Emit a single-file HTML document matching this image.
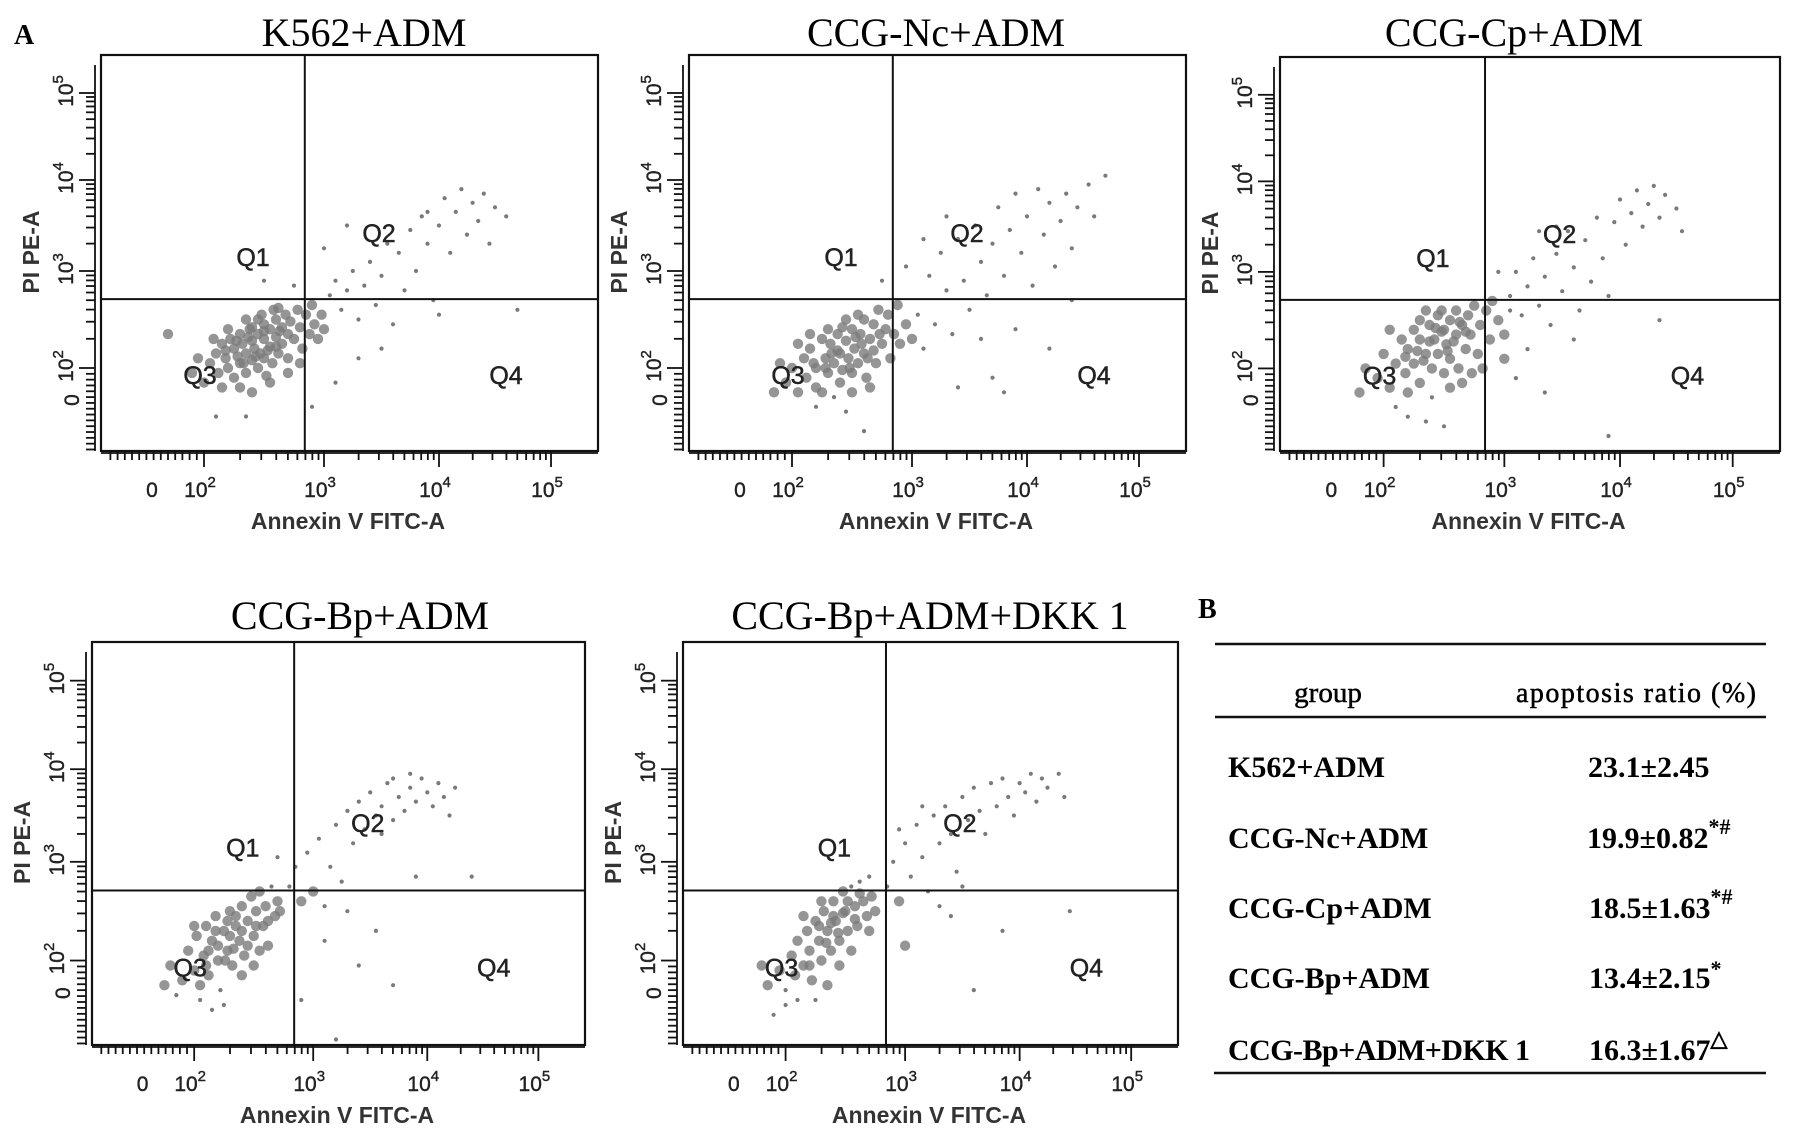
<!DOCTYPE html>
<html><head><meta charset="utf-8"><style>
html,body{margin:0;padding:0;background:#fff}
svg{display:block}
.ser{font-family:"Liberation Serif",serif}
.san{font-family:"Liberation Sans",sans-serif}
</style></head><body>
<svg id="fig" width="1795" height="1142" viewBox="0 0 1795 1142" xmlns="http://www.w3.org/2000/svg">
<text x="14" y="44" class="ser" font-size="28" font-weight="bold">A</text>
<g id="plots"></g>
<g class="ser">
<text x="1198" y="618" font-size="28" font-weight="bold">B</text>
<line x1="1215" y1="644" x2="1766" y2="644" stroke="#111" stroke-width="2.5"/>
<text x="1328" y="702" font-size="29" text-anchor="middle" stroke="#000" stroke-width="0.5">group</text>
<text x="1636" y="702" font-size="28" text-anchor="middle" textLength="240" stroke="#000" stroke-width="0.5">apoptosis ratio (%)</text>
<line x1="1215" y1="717" x2="1766" y2="717" stroke="#111" stroke-width="2.5"/>
<g font-size="30" font-weight="bold">
<text x="1228" y="777">K562+ADM</text>
<text x="1588" y="777">23.1±2.45</text>
<text x="1228" y="848">CCG-Nc+ADM</text>
<text x="1587" y="848">19.9±0.82<tspan font-size="22" dy="-14">*#</tspan></text>
<text x="1228" y="918">CCG-Cp+ADM</text>
<text x="1589" y="918">18.5±1.63<tspan font-size="22" dy="-14">*#</tspan></text>
<text x="1228" y="988">CCG-Bp+ADM</text>
<text x="1589" y="988">13.4±2.15<tspan font-size="22" dy="-12">*</tspan></text>
<text x="1228" y="1060" textLength="302">CCG-Bp+ADM+DKK 1</text>
<text x="1589" y="1060">16.3±1.67<tspan font-size="22" dy="-14">△</tspan></text>
</g>
<line x1="1214" y1="1073" x2="1766" y2="1073" stroke="#111" stroke-width="2.5"/>
</g>
</svg>
<script>
// ---- data (log10 Annexin V, log10 PI) ----
const panelTitles = ["K562+ADM","CCG-Nc+ADM","CCG-Cp+ADM","CCG-Bp+ADM","CCG-Bp+ADM+DKK 1"];
const xTickDecades = [2,3,4,5];
const yTickDecades = [2,3,4,5];
const gateAnnexin = [2.84,2.84,2.84,2.84,2.84];
const gatePI = [2.71,2.71,2.71,2.71,2.71];
const p1Events = [[2.05,2.05],[2.1,2.15],[2.12,1.95],[2.15,2.25],[2.18,2.1],[2.2,2.0],[2.22,2.3],[2.25,2.2],[2.25,1.9],[2.28,2.12],[2.3,2.35],[2.3,2.05],[2.32,2.25],[2.35,2.15],[2.35,1.95],[2.38,2.4],[2.4,2.28],[2.4,2.08],[2.42,2.2],[2.45,2.35],[2.45,2.0],[2.47,2.15],[2.5,2.45],[2.5,2.3],[2.5,2.1],[2.52,1.92],[2.55,2.4],[2.55,2.22],[2.57,2.05],[2.6,2.5],[2.6,2.32],[2.62,2.15],[2.65,2.42],[2.65,2.25],[2.68,2.55],[2.7,2.35],[2.7,2.1],[2.72,2.48],[2.75,2.3],[2.78,2.6],[2.8,2.42],[2.82,2.2],[2.85,2.55],[2.88,2.35],[2.9,2.65],[2.92,2.45],[2.95,2.3],[2.98,2.55],[3.0,2.4],[2.2,2.4],[2.0,1.85],[2.3,1.8],[2.4,1.75],[2.55,1.85],[2.15,1.8],[1.95,2.1],[2.35,2.5],[2.48,2.55],[2.62,2.62],[2.08,2.3],[2.7,1.95],[2.8,2.05],[1.9,1.95],[2.45,2.5],[2.58,2.6],[2.27,2.28],[2.37,2.32],[2.43,2.12],[2.53,2.18],[2.63,2.38],[2.33,2.05],[2.18,2.18],[2.5,2.38],[2.6,2.22],[2.4,2.42],
[3.05,2.75],[3.1,2.9],[3.15,2.6],[3.2,2.8],[3.25,3.0],[3.3,2.5],[3.35,2.85],[3.4,3.1],[3.45,2.65],[3.5,2.95],[3.55,3.3],[3.6,2.45],[3.65,3.2],[3.7,2.8],[3.75,3.45],[3.8,3.0],[3.85,3.6],[3.9,3.3],[3.95,2.7],[4.0,3.5],[4.05,3.8],[4.1,3.2],[4.15,3.65],[4.2,3.9],[4.25,3.4],[4.3,3.75],[4.35,3.55],[4.4,3.85],[4.45,3.3],[4.5,3.7],[3.2,3.5],[3.0,3.25],[2.75,2.85],[2.5,2.9],[1.7,2.35],[3.5,2.2],[3.3,2.1],[4.0,2.55],[4.7,2.6],[2.9,1.6],[2.35,1.5],[2.1,1.5],[3.1,1.85],[3.9,3.65],[4.6,3.6]];
const p2Events = [[1.95,1.85],[2.0,2.0],[2.05,1.75],[2.1,2.1],[2.12,1.9],[2.15,2.2],[2.2,2.0],[2.2,1.8],[2.25,2.3],[2.28,2.1],[2.3,1.95],[2.32,2.25],[2.35,2.05],[2.38,2.35],[2.4,2.15],[2.4,1.85],[2.42,1.98],[2.45,2.28],[2.47,2.1],[2.5,2.4],[2.5,1.95],[2.52,2.2],[2.55,2.05],[2.57,2.35],[2.6,2.5],[2.6,2.15],[2.62,1.9],[2.65,2.3],[2.68,2.45],[2.7,2.05],[2.72,2.6],[2.75,2.25],[2.78,2.4],[2.8,2.55],[2.82,2.1],[2.85,2.35],[2.88,2.65],[2.9,2.25],[2.95,2.45],[3.0,2.3],[3.05,2.55],[3.1,2.2],[2.3,2.4],[2.15,2.35],[2.25,1.75],[2.35,1.7],[2.5,1.75],[1.9,2.05],[2.45,2.5],[2.55,2.55],[2.65,1.8],[2.05,2.25],[2.38,2.18],[2.48,2.0],[2.58,2.25],[2.68,2.18],[2.28,2.0],[2.18,2.05],[2.42,2.42],[2.33,2.15],[2.53,2.32],[2.63,2.1],[2.73,2.35],[1.85,1.75],[2.2,1.6],[2.45,1.55],
[3.15,2.95],[3.2,2.45],[3.25,3.2],[3.3,2.8],[3.35,2.35],[3.4,3.35],[3.45,2.9],[3.5,2.6],[3.55,3.5],[3.6,3.1],[3.65,2.75],[3.7,3.3],[3.75,3.7],[3.8,2.95],[3.85,3.45],[3.9,3.85],[3.95,3.2],[4.0,3.6],[4.05,2.85],[4.1,3.9],[4.15,3.4],[4.2,3.75],[4.25,3.05],[4.3,3.55],[4.35,3.85],[4.4,3.25],[4.45,3.7],[4.55,3.95],[4.6,3.6],[4.7,4.05],[3.1,3.35],[2.95,3.05],[3.3,3.6],[3.6,2.3],[3.9,2.4],[4.4,2.7],[4.2,2.2],[3.7,1.9],[3.8,1.75],[3.4,1.8],[2.75,2.9],[2.6,1.35]];
const p3Events = [[1.85,2.0],[1.95,1.9],[2.0,2.15],[2.05,1.8],[2.1,2.05],[2.15,2.3],[2.18,1.95],[2.2,2.2],[2.25,2.4],[2.25,2.05],[2.3,1.85],[2.3,2.3],[2.35,2.15],[2.38,2.45],[2.4,2.0],[2.42,2.3],[2.45,2.55],[2.45,2.15],[2.5,2.4],[2.5,1.95],[2.52,2.25],[2.55,2.5],[2.55,2.1],[2.6,2.35],[2.6,2.6],[2.62,2.0],[2.65,2.45],[2.68,2.2],[2.7,2.55],[2.72,2.35],[2.75,2.65],[2.78,2.15],[2.8,2.45],[2.85,2.6],[2.88,2.3],[2.9,2.7],[2.95,2.5],[3.0,2.35],[3.05,2.6],[2.3,2.5],[2.2,1.75],[2.4,1.7],[2.55,1.8],[2.1,1.6],[1.8,1.75],[2.35,2.6],[2.48,2.6],[2.65,1.85],[2.05,2.4],[2.28,2.18],[2.38,2.28],[2.48,2.38],[2.58,2.28],[2.68,2.38],[2.33,2.08],[2.43,2.42],[2.53,2.18],[2.63,2.48],[2.18,2.12],[2.73,1.95],[2.82,2.0],[2.2,1.5],[2.35,1.45],
[3.05,2.75],[3.1,3.0],[3.15,2.55],[3.2,2.85],[3.25,3.15],[3.3,2.65],[3.35,2.95],[3.4,2.45],[3.45,3.2],[3.5,2.8],[3.55,3.45],[3.6,3.05],[3.65,2.6],[3.7,3.35],[3.75,2.9],[3.8,3.6],[3.85,3.15],[3.9,2.75],[3.95,3.55],[4.0,3.8],[4.05,3.3],[4.1,3.65],[4.15,3.9],[4.2,3.5],[4.25,3.75],[4.3,3.95],[4.35,3.6],[4.4,3.85],[4.5,3.7],[4.55,3.45],[3.3,3.45],[3.45,3.5],[2.95,3.0],[3.0,2.1],[3.2,2.2],[3.6,2.3],[4.35,2.5],[3.9,1.3],[3.1,1.9],[3.35,1.75],[2.5,1.4]];
const p4Events = [[1.8,1.95],[1.9,1.8],[1.95,2.1],[2.0,1.9],[2.02,2.25],[2.05,1.75],[2.08,2.05],[2.1,2.35],[2.12,1.85],[2.15,2.2],[2.18,2.45],[2.2,2.0],[2.22,1.7],[2.25,2.3],[2.28,2.1],[2.3,2.5],[2.32,1.95],[2.35,2.35],[2.38,2.2],[2.4,2.55],[2.42,2.05],[2.45,2.4],[2.48,2.65],[2.5,2.25],[2.52,2.5],[2.55,2.7],[2.58,2.35],[2.6,2.55],[2.62,2.15],[2.65,2.75],[2.68,2.45],[2.7,2.6],[2.05,1.6],[2.15,1.5],[2.25,1.55],[1.85,1.65],[2.3,2.25],[2.2,2.15],[2.35,2.45],[2.4,2.3],[2.12,2.1],[2.26,2.0],[2.33,2.12],[2.45,2.15],[2.52,2.35],[2.18,2.3],[2.4,1.85],[2.28,2.4],[2.1,1.95],[2.55,2.1],[1.75,1.75],[2.0,2.35],[2.5,1.95],[2.62,2.4],[2.72,2.5],
[2.8,2.75],[2.85,2.95],[2.9,2.6],[2.95,3.1],[3.0,2.7],[3.05,3.25],[3.1,2.55],[3.15,2.95],[3.2,3.4],[3.25,2.8],[3.3,3.55],[3.35,3.2],[3.4,3.65],[3.45,3.35],[3.5,3.75],[3.55,3.5],[3.6,3.6],[3.65,3.85],[3.7,3.45],[3.75,3.7],[3.8,3.55],[3.85,3.8],[3.9,3.65],[3.95,3.9],[4.0,3.75],[4.05,3.6],[4.1,3.85],[4.15,3.7],[4.2,3.5],[4.25,3.8],[3.7,3.9],[3.85,3.95],[3.6,3.3],[3.3,2.5],[3.1,2.2],[3.55,2.3],[3.4,1.95],[3.7,1.75],[3.2,1.2],[2.9,1.6],[2.7,3.05],[3.9,2.85],[4.4,2.85]];
const p5Events = [[1.85,1.75],[1.95,1.9],[2.0,1.7],[2.05,2.05],[2.08,1.85],[2.1,2.2],[2.15,1.95],[2.18,2.3],[2.2,2.1],[2.22,1.8],[2.25,2.4],[2.28,2.2],[2.3,2.0],[2.32,2.5],[2.35,2.3],[2.38,2.1],[2.4,2.6],[2.42,2.4],[2.45,2.2],[2.48,2.7],[2.5,2.5],[2.52,2.3],[2.55,2.75],[2.58,2.55],[2.6,2.35],[2.62,2.8],[2.65,2.6],[2.68,2.45],[2.7,2.85],[2.72,2.65],[2.75,2.5],[2.1,1.6],[2.25,1.6],[2.35,1.75],[1.8,1.95],[2.15,2.45],[2.3,2.6],[2.45,1.95],[2.55,2.1],[2.4,2.45],[2.28,2.35],[2.38,2.38],[2.48,2.48],[2.58,2.42],[2.34,2.18],[2.44,2.28],[2.2,1.95],[2.52,2.6],[2.62,2.68],[2.0,1.55],[1.9,1.45],[2.7,2.3],
[2.85,2.75],[2.9,3.0],[2.95,2.6],[3.0,3.2],[3.05,2.85],[3.1,3.4],[3.15,3.05],[3.2,2.7],[3.25,3.5],[3.3,3.2],[3.35,3.6],[3.4,3.3],[3.45,2.9],[3.5,3.7],[3.55,3.45],[3.6,3.8],[3.65,3.55],[3.7,3.3],[3.75,3.85],[3.8,3.6],[3.85,3.9],[3.9,3.7],[3.95,3.5],[4.0,3.85],[4.05,3.75],[4.1,3.95],[4.15,3.65],[4.2,3.9],[4.25,3.8],[4.35,3.95],[4.4,3.7],[2.95,3.35],[3.15,3.6],[3.3,2.55],[3.4,2.45],[3.5,2.75],[4.45,2.5],[3.6,1.7],[3.0,2.15],[3.85,2.3]];
const panelEvents = [p1Events,p2Events,p3Events,p4Events,p5Events];

// ---- layout (pixels) ----
const layout = [
 {x:101,y:55,w:497,h:396,tx:364,ty:46},
 {x:689,y:55,w:497,h:396,tx:936,ty:46},
 {x:1280,y:57,w:500,h:394,tx:1514,ty:46},
 {x:92,y:642,w:493,h:403,tx:360,ty:629},
 {x:683,y:642,w:495,h:403,tx:930,ty:629}
];
const XPX=[103,223,338,450], YPX=[313,216,125,38];
function interp(v,ticks,px){
  if(v<=ticks[0]) return px[0]+(v-ticks[0])*(px[1]-px[0]);
  for(let i=0;i<ticks.length-1;i++){ if(v<=ticks[i+1]) return px[i]+(v-ticks[i])/(ticks[i+1]-ticks[i])*(px[i+1]-px[i]); }
  const n=ticks.length-1; return px[n]+(v-ticks[n])*(px[n]-px[n-1]);
}
const NS="http://www.w3.org/2000/svg";
function mk(tag,attrs,parent){const e=document.createElementNS(NS,tag);for(const k in attrs)e.setAttribute(k,attrs[k]);parent.appendChild(e);return e;}
const root=document.getElementById('plots');
layout.forEach((L,pi)=>{
  const sx=L.w/497, sy=L.h/396;
  const xs=v=>L.x+interp(v,xTickDecades,XPX)*sx;
  const ys=v=>L.y+interp(v,yTickDecades,YPX)*sy;
  const g=mk('g',{},root);
  
  
  const t=mk('text',{x:L.tx,y:L.ty,'text-anchor':'middle','font-size':40,class:'ser'},g);
  t.textContent=panelTitles[pi];
  
  
  const pg=mk('g',{fill:'#7a7a7a'},g);
  
  
  panelEvents[pi].forEach(p=>{
    const dense = p[0]<gateAnnexin[pi]+0.2 && p[1]<gatePI[pi] && p[1]>1.7;
    const c=mk('circle',{cx:xs(p[0]).toFixed(1),cy:ys(p[1]).toFixed(1),r:dense?5.2:2.1,opacity:dense?0.8:1},pg);
    
    
  });
  const fr=mk('rect',{x:L.x,y:L.y,width:L.w,height:L.h,fill:'none',stroke:'#111','stroke-width':2.2},g);
  
  
  const gx=xs(gateAnnexin[pi]), gy=ys(gatePI[pi]);
  const vl=mk('line',{x1:gx,y1:L.y,x2:gx,y2:L.y+L.h,stroke:'#111','stroke-width':2},g);
  
  
  const hl=mk('line',{x1:L.x,y1:gy,x2:L.x+L.w,y2:gy,stroke:'#111','stroke-width':2},g);
  
  
  [['Q1',152,202],['Q2',278,178],['Q3',99,320],['Q4',405,320]].forEach(q=>{
    const e=mk('text',{x:L.x+q[1]*sx,y:L.y+q[2]*sy+9,'text-anchor':'middle','font-size':25,class:'san',fill:'#222',stroke:'#222','stroke-width':0.5},g);
    e.textContent=q[0];
    
    
  });
  const ax=mk('g',{stroke:'#111','stroke-width':1.8},g);
  
  
  const yl=L.x-6;
  mk('line',{x1:yl,y1:L.y+10,x2:yl,y2:L.y+L.h},ax);
  mk('line',{x1:L.x,y1:L.y+L.h+2,x2:L.x+L.w,y2:L.y+L.h+2},ax);
  for(let d=2; d<=5; d++){
    for(let k=1;k<=9;k++){
      const v=d+Math.log10(k); if(v>5.25) break;
      const len=k===1?16:9;
      const yy=ys(v); if(yy>L.y+8) mk('line',{x1:yl,y1:yy,x2:yl-len,y2:yy},ax);
      const xx=xs(v); if(xx<L.x+L.w-6) mk('line',{x1:xx,y1:L.y+L.h,x2:xx,y2:L.y+L.h+len},ax);
    }
  }
  for(let v=1.1; v<2; v+=0.06){
    const yy=ys(v); if(yy<L.y+L.h) mk('line',{x1:yl,y1:yy,x2:yl-9,y2:yy},ax);
    const xx=xs(v); if(xx>L.x+4) mk('line',{x1:xx,y1:L.y+L.h,x2:xx,y2:L.y+L.h+9},ax);
  }
  xTickDecades.forEach(d=>{
    const e=mk('text',{x:xs(d)-4,y:L.y+L.h+46,'text-anchor':'middle','font-size':21,class:'san',fill:'#222',stroke:'#222','stroke-width':0.4},g);
    e.innerHTML='10<tspan font-size="15" dy="-10">'+d+'</tspan>';
    
    
    const f=mk('text',{transform:'translate('+(L.x-28)+','+(ys(d)-2)+') rotate(-90)','text-anchor':'middle','font-size':21,class:'san',fill:'#222',stroke:'#222','stroke-width':0.4},g);
    f.innerHTML='10<tspan font-size="15" dy="-10">'+d+'</tspan>';
    
    
  });
  const z=mk('text',{x:L.x+51*sx,y:L.y+L.h+46,'text-anchor':'middle','font-size':21,class:'san',fill:'#222',stroke:'#222','stroke-width':0.4},g);
  z.textContent='0';
  
  
  const z2=mk('text',{transform:'translate('+(L.x-22)+','+(L.y+345*sy)+') rotate(-90)','text-anchor':'middle','font-size':21,class:'san',fill:'#222',stroke:'#222','stroke-width':0.4},g);
  z2.textContent='0';
  
  
  const xt=mk('text',{x:L.x+247*sx,y:L.y+L.h+78,'text-anchor':'middle','font-size':23,'font-weight':'bold',class:'san',fill:'#333'},g);
  xt.textContent='Annexin V FITC-A';
  
  
  const yt=mk('text',{transform:'translate('+(L.x-62)+','+(L.y+197*sy)+') rotate(-90)','text-anchor':'middle','font-size':23,'font-weight':'bold',class:'san',fill:'#333'},g);
  yt.textContent='PI PE-A';
  
  
});
</script>
</body></html>
